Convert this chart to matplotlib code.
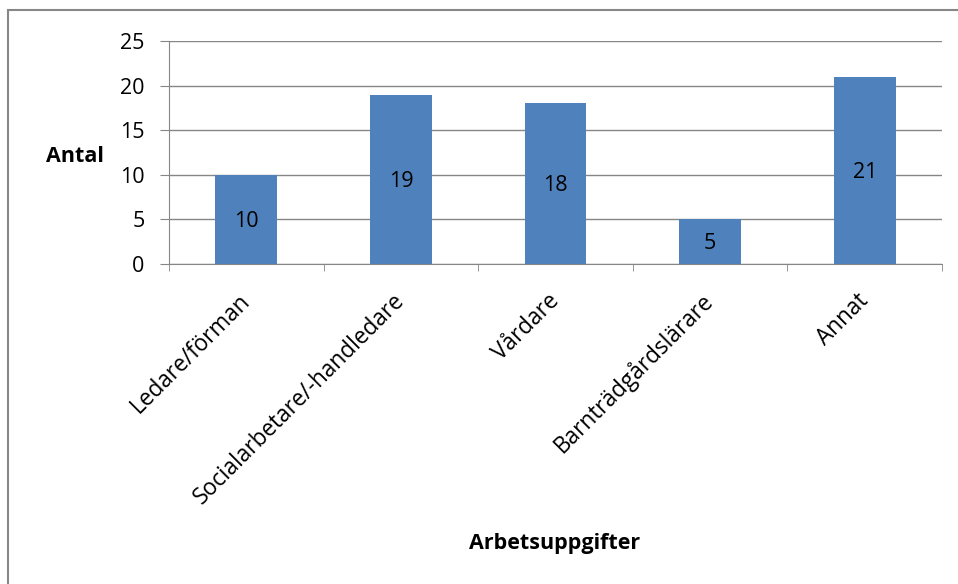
import matplotlib
matplotlib.use("Agg")
import matplotlib.pyplot as plt
from matplotlib.patches import Rectangle

categories = ["Ledare/förman", "Socialarbetare/-handledare", "Vårdare", "Barnträdgårdslärare", "Annat"]
values = [10, 19, 18, 5, 21]
yticks = [0, 5, 10, 15, 20, 25]

plt.rcParams['font.family'] = ['Open Sans', 'DejaVu Sans']
FS = 15.5

W, H = 958, 584
fig = plt.figure(figsize=(W/100, H/100), dpi=100)
fig.patches.append(Rectangle((8/W, -0.1), 2.0, (H-10)/H + 0.1, transform=fig.transFigure,
                             fill=False, edgecolor='#878787', linewidth=1.5))

ax = fig.add_axes([169/W, (H-264)/H, (942-169)/W, (264-41)/H])
x = list(range(len(categories)))
bars = ax.bar(x, values, width=0.4, color='#4F81BD', zorder=3)
for b, v in zip(bars, values):
    ax.text(b.get_x() + b.get_width()/2, v/2 - 0.2, str(v), ha='center', va='center', fontsize=FS, zorder=4)

ax.set_xlim(-0.5, len(categories) - 0.5)
ax.set_ylim(0, 25)
ax.set_yticks(yticks)
ax.set_yticklabels([str(t) for t in yticks], fontsize=FS)
ax.yaxis.grid(True, color='#868686', linewidth=1, zorder=0)
ax.set_xticks(x)
ax.set_xticklabels(categories, rotation=45, ha='right', va='center', rotation_mode='anchor', fontsize=16.3)
ax.set_xticks([i - 0.5 for i in range(len(categories) + 1)], minor=True)
ax.tick_params(axis='x', which='major', length=0, pad=24)
ax.tick_params(axis='x', which='minor', length=5, color='#868686', direction='out')
ax.tick_params(axis='y', length=6.5, color='#868686', pad=11)
for s in ['top', 'right']:
    ax.spines[s].set_visible(False)
for s in ['left', 'bottom']:
    ax.spines[s].set_color('#868686')

fig.text(75/W, 1 - 157/H, "Antal", ha='center', va='center', fontsize=FS, fontweight='bold')
fig.text(555/W, 1 - 543/H, "Arbetsuppgifter", ha='center', va='center', fontsize=FS, fontweight='bold')

fig.savefig("out.png", dpi=100)
